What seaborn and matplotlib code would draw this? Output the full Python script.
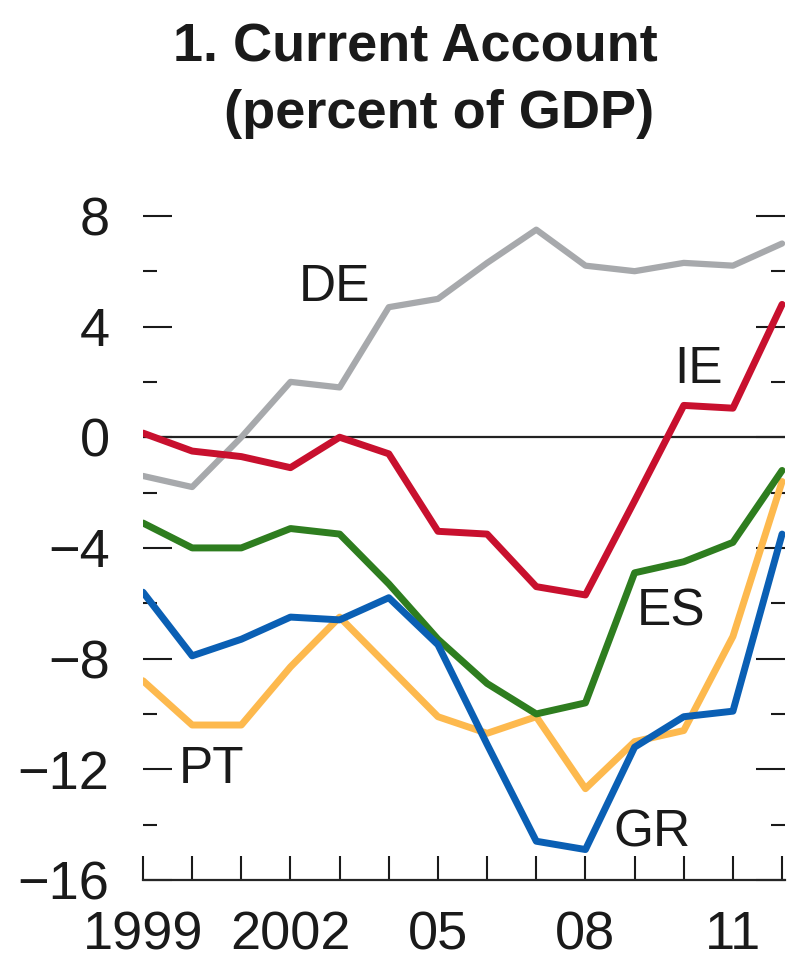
import seaborn as sns
import matplotlib.pyplot as plt
import pandas as pd

# data (percent of GDP)
years = list(range(1999, 2013))
de = [-1.4, -1.8, 0.0, 2.0, 1.8, 4.7, 5.0, 6.3, 7.5, 6.2, 6.0, 6.3, 6.2, 7.0]
ie = [0.15, -0.5, -0.7, -1.1, 0.0, -0.6, -3.4, -3.5, -5.4, -5.7, -2.3, 1.15, 1.05, 4.8]
es = [-3.1, -4.0, -4.0, -3.3, -3.5, -5.3, -7.3, -8.9, -10.0, -9.6, -4.9, -4.5, -3.8, -1.2]
gr = [-5.6, -7.9, -7.3, -6.5, -6.6, -5.8, -7.5, -11.1, -14.6, -14.9, -11.2, -10.1, -9.9, -3.5]
pt = [-8.8, -10.4, -10.4, -8.3, -6.5, -8.3, -10.1, -10.7, -10.1, -12.7, -11.0, -10.6, -7.2, -1.6]

countries = ["DE", "IE", "ES", "GR", "PT"]
colors = {"DE": "#a7a9ac", "IE": "#c8102e", "ES": "#2e7d1f",
          "GR": "#0a5fb4", "PT": "#fdb94e"}

xtick_pos = [1999, 2002, 2005, 2008, 2011]
xtick_lab = ["1999", "2002", "05", "08", "11"]
ytick_pos = [-16, -12, -8, -4, 0, 4, 8]
ytick_lab = ["\u221216", "\u221212", "\u22128", "\u22124", "0", "4", "8"]

df = pd.DataFrame({"year": years * 5,
                   "value": de + ie + es + gr + pt,
                   "country": sum([[c] * len(years) for c in countries], [])})

sns.set_style("ticks")
plt.rcParams["font.family"] = ["Liberation Sans", "DejaVu Sans"]
plt.rcParams["text.color"] = "#1a1a1a"
plt.rcParams["ytick.color"] = "#1a1a1a"
plt.rcParams["xtick.color"] = "#1a1a1a"

fig = plt.figure(figsize=(7.87, 9.73), dpi=100)
ax = fig.add_axes([0.1817, 0.0956, 0.8158, 0.711])

ax.axhline(0, color="#222222", lw=1.6, zorder=1)
# grey first so it sits underneath the others
for c in ["DE", "IE", "PT", "ES", "GR"]:
    sns.lineplot(data=df[df.country == c], x="year", y="value", ax=ax,
                 color=colors[c], lw=5.0 if c != "DE" else 4.5, legend=False,
                 zorder=3)

ax.set_xlim(1999, 2012.06)
ax.set_ylim(-16, 9)
ax.set_xlabel("")
ax.set_ylabel("")

ax.set_xticks(years)
ax.set_xticklabels(["" for y in years])
for x, lab in zip(xtick_pos, xtick_lab):
    ax.text(x, -17.1, lab, ha="center", va="top", fontsize=39, clip_on=False)
ax.tick_params(axis="x", direction="in", length=17, width=1.5, pad=2)

ax.set_yticks(ytick_pos)
ax.set_yticklabels(ytick_lab, fontsize=39)
ax.set_yticks(range(-14, 9, 4), minor=True)
ax.tick_params(axis="y", which="major", direction="in", length=21, width=1.5,
               left=True, right=True, pad=24)
ax.tick_params(axis="y", which="minor", direction="in", length=10, width=1.5,
               left=True, right=True)

for s in ["top", "left", "right"]:
    ax.spines[s].set_visible(False)
ax.spines["bottom"].set_linewidth(1.6)

# series labels
labels = {"DE": (2002.9, 5.4), "IE": (2010.3, 2.45), "ES": (2009.75, -6.3),
          "GR": (2009.35, -14.3), "PT": (2000.4, -12.0)}
for c, (x, y) in labels.items():
    ax.text(x, y, c, fontsize=37, ha="center", va="center")

fig.text(658 / 787, 1 - 62 / 973, "1. Current Account", ha="right",
         va="baseline", fontsize=39, fontweight="bold")
fig.text(654 / 787, 1 - 128 / 973, "(percent of GDP)", ha="right",
         va="baseline", fontsize=39, fontweight="bold")

fig.savefig("out.png", dpi=100)
